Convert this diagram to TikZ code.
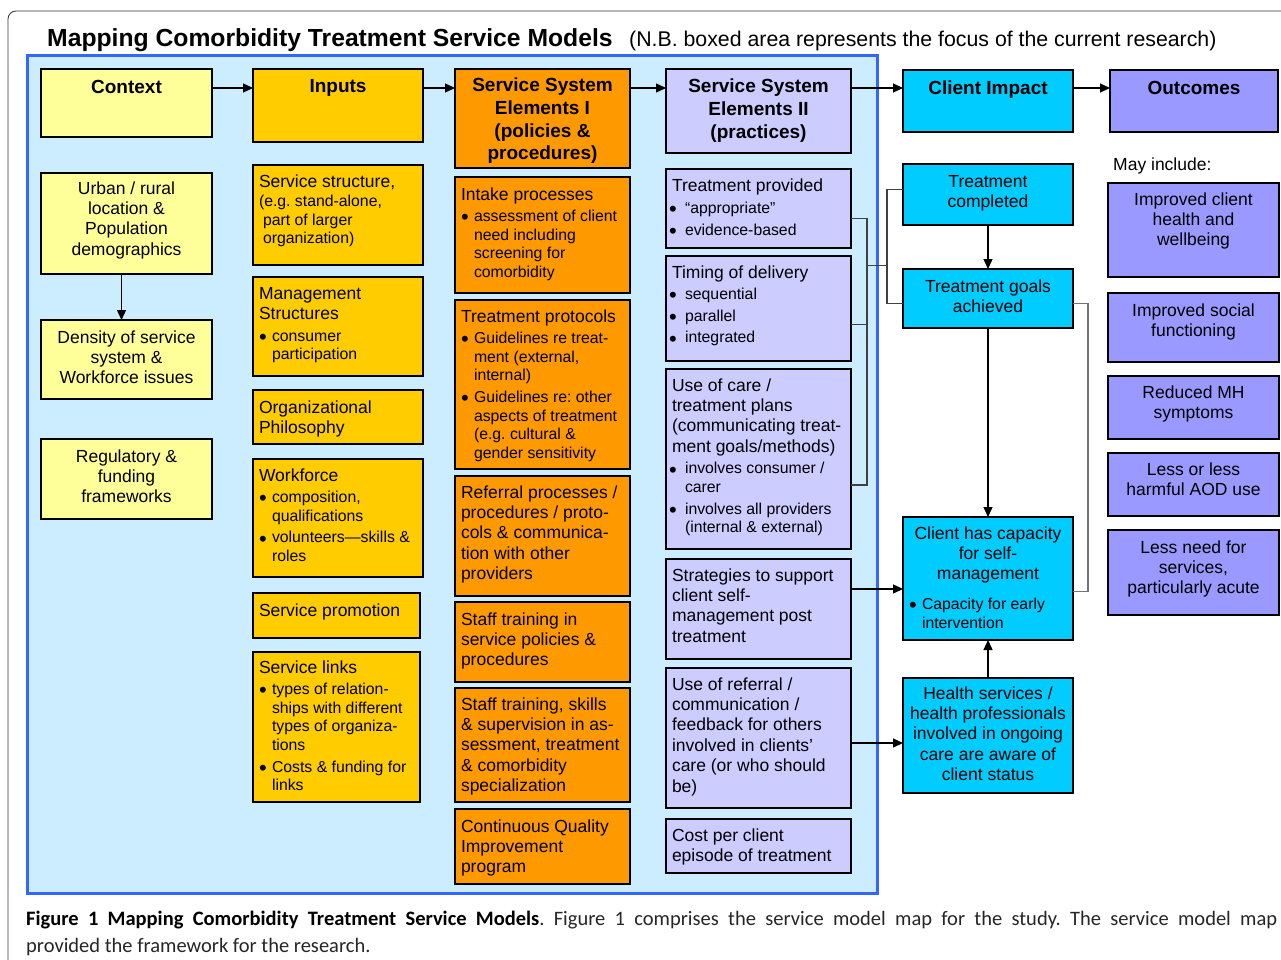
\documentclass[tikz,border=0pt]{standalone}
\usepackage{fontspec}
\setmainfont{Liberation Sans}
\newfontfamily\capfont{Carlito}
\usetikzlibrary{arrows.meta,calc}

\definecolor{frameblue}{HTML}{3366FF}
\definecolor{framefill}{HTML}{CCECFF}
\definecolor{ctxfill}{HTML}{FFFF99}
\definecolor{inpfill}{HTML}{FFCC00}
\definecolor{ssafill}{HTML}{FF9900}
\definecolor{ssbfill}{HTML}{CCCCFF}
\definecolor{impfill}{HTML}{00CCFF}
\definecolor{outfill}{HTML}{9999FF}

\hyphenpenalty=10000
\exhyphenpenalty=10000
\frenchspacing

% text sizes
\newcommand\maintxt{\fontsize{17.5}{20.4}\selectfont}
\newcommand\smalltxt{\fontsize{15.8}{18.6}\selectfont}
\newcommand\hdrtxt{\fontsize{19}{22.6}\selectfont\bfseries}

% bullet item with hanging indent
\newlength\bulshift
\newcommand\bulmark{\raisebox{-3.2pt}{\fontsize{22}{22}\selectfont\textbullet}}
\newcommand\bul[1]{\par\vspace{3pt}{\smalltxt\hangindent=13pt\hangafter=1\noindent\hspace*{\bulshift}\makebox[\dimexpr13pt-\bulshift\relax][l]{\bulmark}#1\par}}

% \panel{name}{style}{x1}{y1}{x2}{y2}{first baseline offset}{body}
\newcommand\panel[8]{%
  \node[panel,#2,anchor=north west] (#1) at (#3,#4)
   {\parbox[c][\dimexpr#6pt-#4pt\relax][t]{\dimexpr#5pt-#3pt-12pt\relax}%
     {\vspace*{\dimexpr#7pt-15pt\relax}\maintxt\raggedright\leavevmode\rule{0pt}{15pt}#8}};}

\tikzset{
  panel/.style={draw=black, line width=1.6pt, inner xsep=6pt, inner ysep=0pt, outer sep=0pt},
  colctx/.style={fill=ctxfill},
  colinp/.style={fill=inpfill},
  colssa/.style={fill=ssafill},
  colssb/.style={fill=ssbfill},
  colimp/.style={fill=impfill},
  colout/.style={fill=outfill},
  arr/.style={draw=black, line width=1.3pt, -{Triangle[length=10pt,width=9pt]}},
  brk/.style={draw=black!75, line width=1.3pt},
  brkb/.style={draw=black!55, line width=1.3pt},
}

\begin{document}
\begin{tikzpicture}[x=1pt,y=-1pt]
\useasboundingbox (0,0) rectangle (1281,960);
\fill[white] (0,0) rectangle (1281,960);

% page frame
\draw[black!80, line width=0.8pt, rounded corners=8pt] (8,962) -- (8,11) -- (1283,11);

% titles
\node[anchor=base west, inner sep=0pt, font=\fontsize{24.7}{28}\selectfont\bfseries] (title) at (47,47) {Mapping Comorbidity Treatment Service Models};
\node[anchor=base west, inner sep=0pt, font=\fontsize{21.3}{25}\selectfont] (subtitle) at (629,47) {(N.B. boxed area represents the focus of the current research)};

% research focus area
\node[draw=frameblue, fill=framefill, line width=3pt, anchor=north west, minimum width=850pt, minimum height=838pt, inner sep=0pt] (focus) at (26,54) {};

% Context column
\panel{ctx}{colctx}{41}{69}{212}{137}{25}{\centering\hdrtxt Context}
\panel{urban}{colctx}{41}{173}{212}{274}{21}{\centering Urban / rural\\location \&\\Population\\demographics}
\panel{density}{colctx}{41}{320}{212}{399}{23}{\centering Density of service\\system \&\\Workforce issues}
\panel{reg}{colctx}{41}{439}{212}{519}{23}{\centering Regulatory \&\\funding\\frameworks}

% Inputs column
\panel{inputs}{colinp}{253}{69}{423}{142}{24}{\centering\hdrtxt Inputs}
\panel{svs}{colinp}{253}{165}{423}{265}{23}{Service structure,\\{\smalltxt (e.g. stand-alone,\\\hspace*{4pt}part of larger\\\hspace*{4pt}organization)\par}}
\panel{mgmt}{colinp}{253}{277}{423}{376}{22}{Management\\Structures\bul{consumer\newline participation}}
\panel{org}{colinp}{253}{390}{423}{444}{23}{Organizational\\Philosophy}
\panel{wf}{colinp}{253}{459}{423}{577}{22}{Workforce\bul{composition,\newline qualifications}\bul{volunteers—skills \&\newline roles}}
\panel{promo}{colinp}{253}{593}{420}{638}{23}{Service promotion}
\panel{links}{colinp}{253}{652}{420}{802}{21}{Service links\bul{types of relation-\newline ships with different\newline types of organiza-\newline tions}\bul{Costs \& funding for\newline links}}

% Service System Elements I
\panel{ssahdr}{colssa}{455}{69}{630}{168}{23}{\centering\hdrtxt Service System\\Elements I\\(policies \&\\procedures)}
\panel{intake}{colssa}{455}{177}{630}{293}{23}{Intake processes\bul{assessment of client\newline need including\newline screening for\newline comorbidity}}
\panel{protocols}{colssa}{455}{300}{630}{469}{22}{Treatment protocols\bul{Guidelines re treat-\newline ment (external,\newline internal)}\bul{Guidelines re: other\newline aspects of treatment\newline (e.g. cultural \&\newline gender sensitivity}}
\panel{referral}{colssa}{455}{476}{630}{596}{22}{Referral processes /\\procedures / proto-\\cols \& communica-\\tion with other\\providers}
\panel{train}{colssa}{455}{602}{630}{682}{23}{Staff training in\\service policies \&\\procedures}
\panel{skills}{colssa}{455}{688}{630}{802}{22}{Staff training, skills\\\& supervision in as-\\sessment, treatment\\\& comorbidity\\specialization}
\panel{cqi}{colssa}{455}{809}{630}{884}{23}{Continuous Quality\\Improvement\\program}

% Service System Elements II
\setlength\bulshift{-3pt}
\panel{ssbhdr}{colssb}{666}{69}{851}{153}{24}{\centering\hdrtxt Service System\\Elements II\\(practices)}
\panel{tp}{colssb}{666}{169}{851}{248}{23}{Treatment provided\bul{“appropriate”}\bul{evidence-based}}
\panel{tm}{colssb}{666}{256}{851}{361}{22}{Timing of delivery\bul{sequential}\bul{parallel}\bul{integrated}}
\panel{uc}{colssb}{666}{369}{851}{549}{22}{Use of care /\\treatment plans\\(communicating treat-\\ment goals/methods)\bul{involves consumer /\newline carer}\bul{involves all providers\newline (internal \& external)}}
\panel{strat}{colssb}{666}{559}{851}{659}{22}{Strategies to support\\client self-\\management post\\treatment}
\panel{refu}{colssb}{666}{668}{851}{808}{22}{Use of referral /\\communication /\\feedback for others\\involved in clients’\\care (or who should\\be)}
\panel{cost}{colssb}{666}{819}{851}{873}{22}{Cost per client\\episode of treatment}
\setlength\bulshift{0pt}

% Client impact column
\panel{imphdr}{colimp}{903}{70}{1073}{132}{25}{\centering\hdrtxt Client Impact}
\panel{tc}{colimp}{903}{164}{1073}{225}{23}{\centering Treatment\\completed}
\panel{tg}{colimp}{903}{269}{1073}{328}{23}{\centering Treatment goals\\achieved}
\panel{cc}{colimp}{903}{517}{1073}{640}{22}{\centering Client has capacity\\for self-\\management\par\vspace{8pt}{\raggedright\bul{Capacity for early\newline intervention}}}
\panel{hs}{colimp}{903}{678}{1073}{793}{21}{\centering Health services /\\health professionals\\involved in ongoing\\care are aware of\\client status}

% Outcomes column
\panel{outhdr}{colout}{1110}{70}{1278}{132}{25}{\centering\hdrtxt Outcomes}
\node[anchor=base west, inner sep=0pt, font=\maintxt] (may) at (1113,171) {May include:};
\panel{o1}{colout}{1108}{183}{1279}{277}{22}{\centering Improved client\\health and\\wellbeing}
\panel{o2}{colout}{1108}{293}{1279}{362}{23}{\centering Improved social\\functioning}
\panel{o3}{colout}{1108}{376}{1279}{439}{22}{\centering Reduced MH\\symptoms}
\panel{o4}{colout}{1108}{453}{1279}{516}{22}{\centering Less or less\\harmful AOD use}
\panel{o5}{colout}{1108}{530}{1279}{615}{23}{\centering Less need for\\services,\\particularly acute}

% header flow
\draw[arr] ($(ctx.north east)+(0,19)$) -- ($(inputs.north west)+(0,19)$);
\draw[arr] ($(inputs.north east)+(0,19)$) -- ($(ssahdr.north west)+(0,19)$);
\draw[arr] ($(ssahdr.north east)+(0,19)$) -- ($(ssbhdr.north west)+(0,19)$);
\draw[arr] ($(ssbhdr.north east)+(0,19)$) -- ($(imphdr.north west)+(0,18)$);
\draw[arr] ($(imphdr.north east)+(0,18)$) -- ($(outhdr.north west)+(0,18)$);

% context link
\draw[arr] ($(urban.south)+(-5,0)$) -- ($(density.north)+(-5,0)$);

% practices feeding treatment outcomes
\coordinate (tpo) at ($(tp.east)+(0,10)$);
\coordinate (tmo) at ($(tm.east)+(0,16)$);
\coordinate (uco) at ($(uc.east)+(0,26)$);
\coordinate (bt) at ($(tpo)+(16,0)$);
\draw[brk] (tpo) -- (bt) -- (bt |- uco) -- (uco);
\draw[brk] (tmo) -- (tmo -| bt);
\coordinate (bj) at ($(bt)+(0,47)$);
\coordinate (bk) at ($(bj)+(20,0)$);
\coordinate (tci) at ($(tc.west)+(0,-5)$);
\coordinate (tgi) at ($(tg.west)+(0,5)$);
\draw[brk] (bj) -- (bk);
\draw[brk] (tci) -- (tci -| bk) -- (tgi -| bk) -- (tgi);

% goals achieved linked to self-management
\coordinate (tgo) at ($(tg.east)+(0,5)$);
\coordinate (cco) at ($(cc.east)+(0,13)$);
\coordinate (rb) at ($(tgo)+(15,0)$);
\draw[brkb] (tgo) -- (rb) -- (rb |- cco) -- (cco);

% client impact chain
\draw[arr] (tc.south) -- (tg.north);
\draw[arr] (tg.south) -- (cc.north);
\draw[arr] (hs.north) -- (cc.south);
\coordinate (so) at ($(strat.east)+(0,-20)$);
\draw[arr] (so) -- (so -| cc.west);
\coordinate (ro) at ($(refu.east)+(0,5)$);
\draw[arr] (ro) -- (ro -| hs.west);

% caption
\node[anchor=base west, inner sep=0pt, font=\capfont\fontsize{20.5}{24}\selectfont, text=black!85] (cap1) at (26,925)
  {\makebox[1251pt][s]{\textbf{\color{black}Figure 1 Mapping Comorbidity Treatment Service Models}. Figure 1 comprises the service model map for the study. The service model map}};
\node[anchor=base west, inner sep=0pt, font=\capfont\fontsize{20.5}{24}\selectfont, text=black!85] (cap2) at (26,952)
  {provided the framework for the research.};
\end{tikzpicture}
\end{document}
